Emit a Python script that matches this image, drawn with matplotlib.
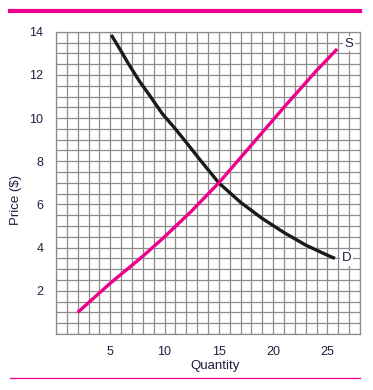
import matplotlib
matplotlib.use('Agg')
import numpy as np
from matplotlib import pyplot as plt
from matplotlib.lines import Line2D

plt.rcParams['font.family'] = ['Liberation Sans', 'DejaVu Sans']

# values
supply_q = [2, 5, 8, 10, 12.5, 15, 18, 21, 24, 25.9]
supply_p = [1, 2.35, 3.6, 4.5, 5.7, 7, 8.75, 10.5, 12.2, 13.2]

demand_q = [5.1, 6, 6.7, 7.7, 8.7, 9.8, 11, 12.2, 13.3, 15, 17, 19, 21, 23, 25, 25.7]
demand_p = [13.85, 13.1, 12.5, 11.7, 11, 10.2, 9.5, 8.75, 8.05, 7, 6.1, 5.35, 4.7, 4.12, 3.65, 3.5]

x_ticks = [5, 10, 15, 20, 25]
y_ticks = [2, 4, 6, 8, 10, 12, 14]

pink = '#ec008c'
grid_gray = '#8c8c8c'
txt = '#1e1e3c'

fig = plt.figure(figsize=(3.73, 3.90), dpi=100)
ax = fig.add_axes([0.150, 0.1436, 0.815, 0.775])

ax.set_xlim(0, 28)
ax.set_ylim(0, 14)
ax.set_xticks(np.arange(0, 29, 1), minor=True)
ax.set_yticks(np.arange(0, 14.5, 0.5), minor=True)
ax.set_xticks(x_ticks)
ax.set_yticks(y_ticks)
ax.grid(which='both', color=grid_gray, linewidth=0.9)
ax.set_axisbelow(True)
ax.tick_params(which='both', length=0, labelsize=9, labelcolor=txt)
ax.tick_params(axis='x', pad=9)
ax.tick_params(axis='y', pad=9)
for s in ax.spines.values():
    s.set_color(grid_gray)
    s.set_linewidth(0.9)

ax.plot(demand_q, demand_p, color='#1a1a1a', lw=2.4, solid_capstyle='butt', solid_joinstyle='round')
ax.plot(supply_q, supply_p, color=pink, lw=2.4, solid_capstyle='butt', solid_joinstyle='round')

box = dict(facecolor='white', edgecolor='none', pad=1.0)
ax.text(27.0, 13.45, 'S', fontsize=9.5, color=txt, ha='center', va='center', bbox=box)
ax.text(26.75, 3.5, 'D', fontsize=9.5, color=txt, ha='center', va='center', bbox=box)

fig.text(215 / 373, 1 - 366 / 390, 'Quantity', fontsize=9.5, color=txt, ha='center', va='center')
fig.text(16 / 373, 1 - 200 / 390, 'Price ($)', fontsize=9.5, color=txt, ha='center', va='center',
         rotation=90)

# pink rules top and bottom
fig.add_artist(Line2D([10 / 373, 360 / 373], [1 - 11 / 390, 1 - 11 / 390], color=pink, lw=3.0))
fig.add_artist(Line2D([10 / 373, 360 / 373], [1 - 378 / 390, 1 - 378 / 390], color=pink, lw=0.9))

fig.savefig('out.png', dpi=100)
